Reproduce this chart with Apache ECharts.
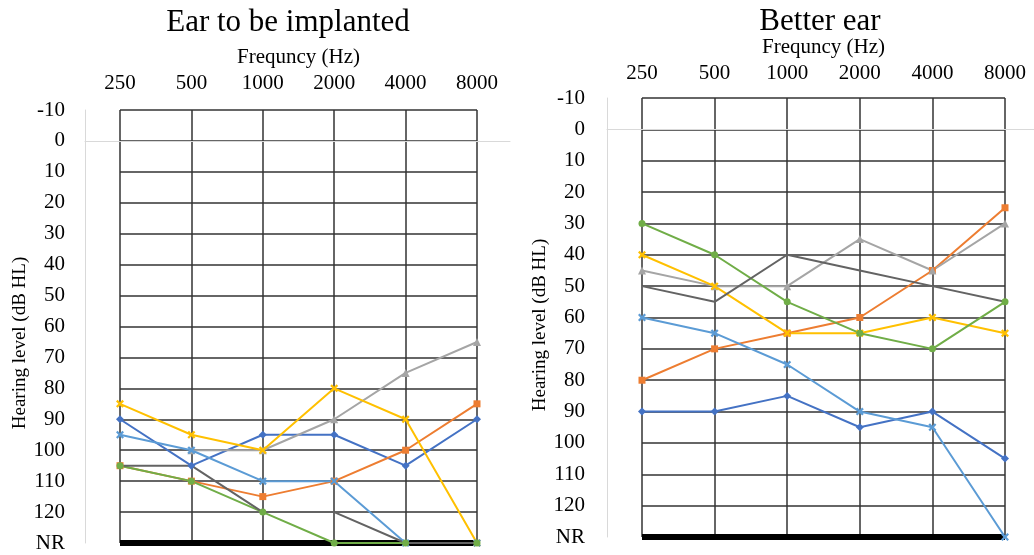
<!DOCTYPE html>
<html>
<head>
<meta charset="utf-8">
<script src="https://cdn.jsdelivr.net/npm/echarts@6/dist/echarts.min.js"></script>
<style>
  html, body { margin: 0; padding: 0; background: #fff; }
  #chart { width: 1034px; height: 555px; }
</style>
</head>
<body>
<div id="chart"></div>
<script>
// frequencies on the top axis
const freqs = ['250', '500', '1000', '2000', '4000', '8000'];
const NR = 130; // "no response" row at the bottom

// Ear to be implanted (dB HL)
const implBlue      = [90, 105, 95, 95, 105, 90];
const implOrange    = [105, 110, 115, 110, 100, 85];
const implGray      = [null, 100, 100, 90, 75, 65];
const implYellow    = [85, 95, 100, 80, 90, NR];
const implLightBlue = [95, 100, 110, 110, NR, NR];
const implGreen     = [105, 110, 120, NR, NR, NR];
const implDarkGray  = [105, 105, 120, 120, NR, NR];

// Better ear (dB HL)
const betterBlue      = [90, 90, 85, 95, 90, 105];
const betterOrange    = [80, 70, 65, 60, 45, 25];
const betterGray      = [45, 50, 50, 35, 45, 30];
const betterYellow    = [40, 50, 65, 65, 60, 65];
const betterLightBlue = [60, 65, 75, 90, 95, NR];
const betterGreen     = [30, 40, 55, 65, 70, 55];
const betterDarkGray  = [50, 55, 40, 45, 50, 55];

const FONT = '"Liberation Serif", "DejaVu Serif", serif';
const xMark = 'path://M2,0 L5,3 L8,0 L10,2 L7,5 L10,8 L8,10 L5,7 L2,10 L0,8 L3,5 L0,2 Z';

// one style per series, Excel order
const styles = [
  { color: '#4472C4', symbol: 'diamond', size: 8 },
  { color: '#ED7D31', symbol: 'rect', size: 7 },
  { color: '#A5A5A5', symbol: 'triangle', size: 8 },
  { color: '#FFC000', symbol: xMark, size: 8 },
  { color: '#5B9BD5', symbol: xMark, size: 8 },
  { color: '#70AD47', symbol: 'circle', size: 7 },
  { color: '#636363', symbol: 'none', size: 0 }
];

function makeSeries(list, axisIdx) {
  return list.map(function (data, i) {
    const st = styles[i];
    return {
      type: 'line',
      xAxisIndex: axisIdx,
      yAxisIndex: axisIdx,
      data: data,
      symbol: st.symbol,
      symbolSize: st.size,
      showSymbol: st.symbol !== 'none',
      lineStyle: { color: st.color, width: 2 },
      itemStyle: { color: st.color },
      silent: true
    };
  });
}

function mainX(gridIdx, nameGap, labelMargin) {
  return {
    type: 'category', gridIndex: gridIdx, position: 'top', boundaryGap: false,
    data: freqs,
    name: 'Frequncy (Hz)', nameLocation: 'middle', nameGap: nameGap,
    nameTextStyle: { fontFamily: FONT, fontSize: 21, color: '#000' },
    axisLine: { show: false }, axisTick: { show: false },
    axisLabel: { fontFamily: FONT, fontSize: 21, color: '#000', margin: labelMargin },
    splitLine: { show: true, interval: 0, lineStyle: { color: '#333', width: 1.5 } }
  };
}
// thick black line along the NR row
function bottomX(gridIdx) {
  return {
    type: 'category', gridIndex: gridIdx, position: 'bottom', boundaryGap: false,
    data: freqs,
    axisLine: { show: true, onZero: false, lineStyle: { color: '#000', width: 6, cap: 'butt' } },
    axisTick: { show: false }, axisLabel: { show: false }, splitLine: { show: false }
  };
}
function mainY(gridIdx, margin) {
  return {
    type: 'value', gridIndex: gridIdx, inverse: true, min: -10, max: NR, interval: 10,
    axisLine: { show: false }, axisTick: { show: false },
    axisLabel: {
      fontFamily: FONT, fontSize: 21, color: '#000', margin: margin, align: 'right',
      formatter: function (v) { return v === NR ? 'NR' : String(v); }
    },
    splitLine: { show: true, lineStyle: { color: '#333', width: 1.5 } }
  };
}
// faint Excel axes behind the drawn grid
function faintX(gridIdx) {
  return {
    type: 'value', gridIndex: gridIdx, min: 0, max: 1,
    axisLine: { show: true, onZero: true, lineStyle: { color: '#d9d9d9', width: 1 } },
    axisTick: { show: false }, axisLabel: { show: false }, splitLine: { show: false }
  };
}
function faintY(gridIdx) {
  return {
    type: 'value', gridIndex: gridIdx, inverse: true, min: -10, max: NR,
    axisLine: { show: true, lineStyle: { color: '#d9d9d9', width: 1 } },
    axisTick: { show: false }, axisLabel: { show: false }, splitLine: { show: false }
  };
}

const chart = echarts.init(document.getElementById('chart'));
const option = {
  animation: false,
  backgroundColor: '#fff',
  grid: [
    { left: 120, right: 557, top: 110, bottom: 12 },
    { left: 642, right: 29, top: 98, bottom: 18 },
    { left: 85, right: 524, top: 110, bottom: 12 },
    { left: 607, right: 0, top: 98, bottom: 18 }
  ],
  xAxis: [mainX(0, 40, 16), mainX(1, 37, 14), faintX(2), faintX(3), bottomX(0), bottomX(1)],
  yAxis: [mainY(0, 55), mainY(1, 57), faintY(2), faintY(3)],
  graphic: [
    { type: 'text', x: 288, y: 23, style: { text: 'Ear to be implanted', fontFamily: FONT, fontSize: 31, fill: '#000', textAlign: 'center', textVerticalAlign: 'middle' } },
    { type: 'text', x: 820, y: 22, style: { text: 'Better ear', fontFamily: FONT, fontSize: 31, fill: '#000', textAlign: 'center', textVerticalAlign: 'middle' } },
    { type: 'text', x: 20, y: 343, rotation: Math.PI / 2, style: { text: 'Hearing level (dB HL)', fontFamily: FONT, fontSize: 19, fill: '#000', textAlign: 'center', textVerticalAlign: 'middle' } },
    { type: 'text', x: 540, y: 325, rotation: Math.PI / 2, style: { text: 'Hearing level (dB HL)', fontFamily: FONT, fontSize: 19, fill: '#000', textAlign: 'center', textVerticalAlign: 'middle' } }
  ],
  series: makeSeries([implBlue, implOrange, implGray, implYellow, implLightBlue, implGreen, implDarkGray], 0)
    .concat(makeSeries([betterBlue, betterOrange, betterGray, betterYellow, betterLightBlue, betterGreen, betterDarkGray], 1))
};
chart.setOption(option);
</script>
</body>
</html>
